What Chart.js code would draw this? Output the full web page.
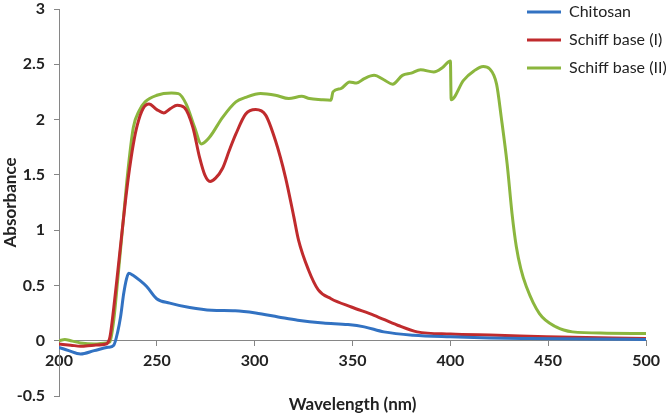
<!DOCTYPE html>
<html>
<head>
<meta charset="utf-8">
<script src="https://cdn.jsdelivr.net/npm/chart.js@4/dist/chart.umd.min.js"></script>
<style>
	body { margin: 0; background: #fff; }
	#wrap { width: 666px; height: 416px; position: relative; }
</style>
</head>
<body>
<div id="wrap"><canvas id="uvChart"></canvas></div>
<script>
// Wavelength (nm) / absorbance
var chitosanWl = [200, 205, 211, 218, 225, 228, 230, 231.5, 233, 234.5, 235.6, 238, 241, 244.8, 249.9, 256.6, 266.8, 278, 290, 300.5, 312, 322, 335, 347.7, 356, 366, 381, 400, 420, 440, 470, 500];
var chitosanAbs = [-0.06, -0.09, -0.12, -0.09, -0.06, -0.04, 0.08, 0.22, 0.42, 0.56, 0.61, 0.59, 0.55, 0.49, 0.38, 0.34, 0.30, 0.275, 0.27, 0.25, 0.215, 0.185, 0.16, 0.146, 0.125, 0.08, 0.05, 0.035, 0.025, 0.02, 0.015, 0.012];

var schiff1Wl = [200, 206, 211, 218, 224, 226, 228, 230, 232, 234, 236, 238, 240, 243, 246, 250, 253.6, 257, 260.4, 264, 268.4, 271.8, 274.5, 277.2, 280, 283.6, 287, 290.4, 295.4, 300.5, 305.6, 310.6, 315.7, 320, 322.4, 327.5, 332.5, 339, 349.4, 361, 373, 383, 400, 424, 449, 500];
var schiff1Abs = [-0.03, -0.04, -0.05, -0.04, -0.03, 0.03, 0.3, 0.62, 0.95, 1.27, 1.55, 1.78, 1.95, 2.10, 2.14, 2.09, 2.06, 2.10, 2.13, 2.11, 1.93, 1.66, 1.50, 1.44, 1.47, 1.56, 1.72, 1.87, 2.05, 2.09, 2.04, 1.81, 1.48, 1.12, 0.91, 0.64, 0.46, 0.38, 0.305, 0.23, 0.14, 0.08, 0.06, 0.05, 0.035, 0.02];

var schiff2Wl = [200, 203, 206, 211, 218, 224, 226, 228, 230, 233, 235, 238, 241, 244, 250, 257.5, 261, 265, 269.3, 272.7, 276.9, 283.6, 290.4, 295.4, 303, 310.6, 317.4, 324, 328, 334, 339, 340, 344, 348.5, 352, 356, 361, 366, 370.5, 375.5, 380, 384.8, 391.5, 396, 400, 400.4, 406.7, 412, 416.8, 420, 423.6, 426, 429, 431.5, 433.7, 436, 438.8, 445.5, 454, 462.4, 480, 500];
var schiff2Abs = [0.0, 0.01, 0.0, -0.02, -0.03, -0.02, -0.01, 0.19, 0.55, 1.12, 1.5, 1.93, 2.08, 2.16, 2.22, 2.24, 2.235, 2.14, 1.93, 1.78, 1.84, 2.02, 2.16, 2.2, 2.235, 2.22, 2.19, 2.21, 2.19, 2.18, 2.175, 2.25, 2.28, 2.34, 2.33, 2.37, 2.40, 2.36, 2.32, 2.40, 2.42, 2.45, 2.43, 2.47, 2.53, 2.18, 2.355, 2.44, 2.48, 2.46, 2.32, 2.02, 1.6, 1.15, 0.85, 0.65, 0.49, 0.245, 0.125, 0.08, 0.068, 0.065];

var seriesNames = ["Chitosan", "Schiff base (I)", "Schiff base (II)"];
var seriesColors = ['#3272C2', '#C02B2D', '#8BB63E'];

function toPoints(wl, abs) {
	return wl.map(function (w, i) { return { x: w, y: abs[i] }; });
}

var tickFont = { family: 'Lato', size: 16, weight: 'bold' };
var titleFont = { family: 'Lato', size: 17, weight: 'bold' };

// move the built-in legend to the top right corner, over the plot
var legendCorner = {
	id: 'legendCorner',
	afterLayout: function (chart) {
		var lg = chart.legend;
		var dx = 515 - lg.left, dy = -8 - lg.top;
		lg.left += dx; lg.right += dx;
		lg.top += dy; lg.bottom += dy;
	}
};

var uvChart = new Chart(document.getElementById('uvChart'), {
	type: 'line',
	data: {
		datasets: seriesNames.map(function (name, i) {
			return {
				label: name,
				data: toPoints([chitosanWl, schiff1Wl, schiff2Wl][i], [chitosanAbs, schiff1Abs, schiff2Abs][i]),
				borderColor: seriesColors[i],
				backgroundColor: seriesColors[i],
				pointBorderWidth: 3
			};
		})
	},
	options: {
		responsive: true,
		maintainAspectRatio: false,
		animation: false,
		layout: { padding: { left: 0, right: 15, top: 9, bottom: 20 } },
		elements: {
			point: { radius: 0 },
			line: { borderWidth: 3, cubicInterpolationMode: 'monotone' }
		},
		plugins: {
			tooltip: { enabled: false },
			legend: {
				position: 'chartArea',
				align: 'start',
				labels: {
					usePointStyle: true,
					pointStyle: 'line',
					pointStyleWidth: 34,
					padding: 12,
					color: '#222',
					font: { family: 'Lato', size: 16 }
				}
			}
		},
		scales: {
			x: {
				type: 'linear',
				position: { y: 0 },
				min: 200,
				max: 500,
				ticks: { stepSize: 50, color: '#222', font: tickFont, padding: 6, maxRotation: 0 },
				grid: { drawOnChartArea: false, tickLength: 5, tickColor: '#868686' },
				border: { color: '#868686' },
				title: {
					display: true,
					text: 'Wavelength (nm)',
					color: '#222',
					font: titleFont,
					padding: { top: 17 }
				}
			},
			y: {
				min: -0.5,
				max: 3,
				ticks: {
					stepSize: 0.5, color: '#222', font: tickFont, padding: 9,
					callback: function (v) { return String(+v.toFixed(1)); }
				},
				grid: { drawOnChartArea: false, tickLength: 5, tickColor: '#868686' },
				border: { color: '#868686' },
				title: {
					display: true,
					text: 'Absorbance',
					color: '#222',
					font: titleFont,
					padding: 0
				},
				afterFit: function (scale) {
					scale.width = 59;
					scale.paddingTop = 0;
					scale.paddingBottom = 0;
				}
			}
		}
	},
	plugins: [legendCorner]
});
</script>
</body>
</html>
